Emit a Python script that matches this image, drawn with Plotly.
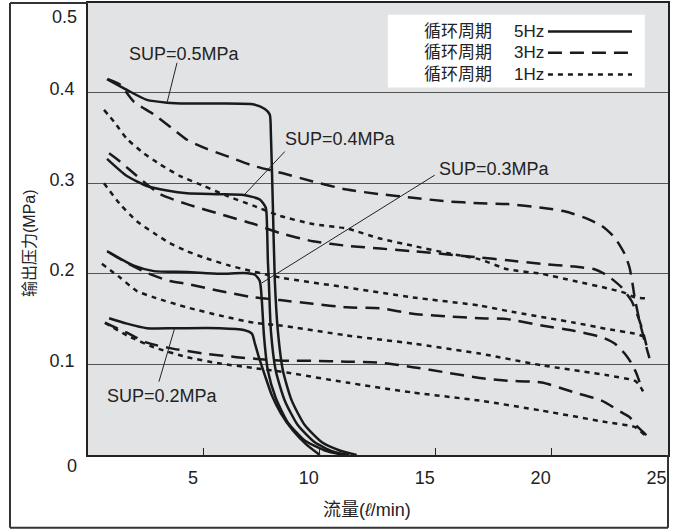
import plotly.graph_objects as go

# ---------------- data (flow l/min, output pressure MPa) ----------------
hz5_05_x = [0.82, 1.68, 2.54, 3.41, 4.27, 5.69, 7.16, 7.63, 7.84, 7.89, 7.97, 8.06, 8.19, 8.41, 8.79, 9.35, 10.09, 10.86, 11.59]
hz5_05_y = [0.415, 0.403, 0.392, 0.389, 0.388, 0.388, 0.387, 0.382, 0.376, 0.354, 0.280, 0.192, 0.137, 0.093, 0.060, 0.033, 0.014, 0.005, 0.0]
hz5_04_x = [0.82, 1.68, 2.54, 3.41, 4.27, 5.69, 6.72, 7.41, 7.67, 7.72, 7.76, 7.80, 7.89, 8.10, 8.49, 9.05, 9.78, 10.56, 11.25]
hz5_04_y = [0.327, 0.308, 0.297, 0.292, 0.289, 0.288, 0.287, 0.282, 0.273, 0.255, 0.214, 0.192, 0.137, 0.093, 0.060, 0.033, 0.014, 0.004, 0.0]
hz5_03_x = [0.82, 1.98, 2.84, 4.27, 5.69, 6.72, 7.20, 7.41, 7.50, 7.59, 7.76, 8.10, 8.62, 9.35, 10.22, 11.03]
hz5_03_y = [0.225, 0.209, 0.203, 0.202, 0.200, 0.201, 0.199, 0.192, 0.170, 0.132, 0.093, 0.063, 0.036, 0.016, 0.005, 0.0]
hz5_02_x = [0.91, 1.68, 2.54, 3.84, 5.69, 6.72, 7.07, 7.20, 7.37, 7.63, 7.93, 8.32, 8.84, 9.40, 10.0]
hz5_02_y = [0.151, 0.145, 0.140, 0.140, 0.140, 0.138, 0.134, 0.123, 0.108, 0.088, 0.066, 0.046, 0.027, 0.012, 0.0]

hz3_05_x = [0.86, 1.38, 1.98, 2.84, 3.71, 4.27, 5.13, 5.99, 7.16, 8.41, 9.70, 11.16, 12.59, 14.01, 15.47, 16.90, 18.10, 19.57, 20.56, 21.42, 22.16, 22.72, 23.15, 23.36, 23.49, 23.58, 23.79, 24.01, 24.22]
hz3_05_y = [0.415, 0.409, 0.390, 0.376, 0.359, 0.348, 0.338, 0.330, 0.319, 0.311, 0.302, 0.293, 0.288, 0.284, 0.280, 0.278, 0.277, 0.273, 0.269, 0.262, 0.253, 0.240, 0.222, 0.207, 0.189, 0.174, 0.148, 0.126, 0.107]
hz3_04_x = [0.91, 1.38, 2.11, 3.10, 4.27, 5.69, 7.16, 8.28, 9.70, 11.16, 14.01, 16.90, 18.10, 19.57, 20.99, 21.85, 22.41, 23.02, 23.45, 23.71, 23.92, 24.09]
hz3_04_y = [0.333, 0.324, 0.308, 0.288, 0.277, 0.266, 0.255, 0.245, 0.236, 0.231, 0.225, 0.218, 0.215, 0.211, 0.208, 0.205, 0.198, 0.185, 0.170, 0.154, 0.138, 0.121]
hz3_03_x = [0.95, 1.68, 2.54, 3.53, 4.27, 5.69, 7.16, 8.28, 9.70, 11.16, 12.59, 14.01, 15.47, 16.90, 18.10, 19.57, 20.99, 22.16, 22.72, 23.15, 23.45, 23.66, 23.92]
hz3_03_y = [0.223, 0.212, 0.201, 0.192, 0.189, 0.181, 0.174, 0.171, 0.167, 0.163, 0.162, 0.156, 0.153, 0.151, 0.150, 0.143, 0.137, 0.130, 0.123, 0.112, 0.101, 0.090, 0.071]
hz3_02_x = [0.73, 1.68, 2.54, 3.53, 5.0, 6.42, 7.84, 8.58, 9.70, 11.16, 12.59, 14.01, 15.47, 16.90, 18.10, 19.57, 20.99, 22.16, 23.02, 23.36, 23.71, 24.01, 24.14]
hz3_02_y = [0.146, 0.135, 0.124, 0.118, 0.112, 0.108, 0.105, 0.104, 0.104, 0.103, 0.102, 0.097, 0.091, 0.085, 0.082, 0.080, 0.069, 0.060, 0.047, 0.042, 0.031, 0.024, 0.020]

hz1_05_x = [0.69, 1.12, 1.68, 2.41, 3.10, 3.97, 5.0, 5.99, 7.16, 8.28, 9.70, 11.16, 12.59, 14.01, 15.47, 16.90, 18.10, 19.57, 20.99, 22.41, 23.15, 23.58, 24.09]
hz1_05_y = [0.381, 0.368, 0.349, 0.333, 0.321, 0.308, 0.297, 0.286, 0.275, 0.264, 0.255, 0.250, 0.239, 0.231, 0.223, 0.216, 0.205, 0.200, 0.192, 0.184, 0.179, 0.174, 0.173]
hz1_04_x = [0.69, 1.38, 2.11, 2.84, 3.53, 4.27, 5.0, 6.12, 8.28, 11.16, 14.01, 16.90, 18.10, 20.99, 22.41, 23.58, 24.09]
hz1_04_y = [0.300, 0.277, 0.258, 0.245, 0.234, 0.225, 0.218, 0.209, 0.196, 0.185, 0.174, 0.165, 0.159, 0.146, 0.139, 0.134, 0.130]
hz1_03_x = [0.60, 1.38, 2.11, 2.84, 4.27, 5.69, 7.16, 8.28, 11.16, 14.01, 16.90, 19.57, 22.41, 23.58, 23.79, 23.97]
hz1_03_y = [0.211, 0.196, 0.181, 0.174, 0.163, 0.154, 0.146, 0.143, 0.132, 0.123, 0.112, 0.099, 0.088, 0.082, 0.077, 0.069]
hz1_02_x = [0.73, 1.68, 2.84, 4.27, 5.69, 7.16, 8.58, 11.16, 14.01, 16.90, 19.57, 22.41, 23.58, 24.01, 24.14]
hz1_02_y = [0.146, 0.132, 0.119, 0.108, 0.101, 0.096, 0.091, 0.080, 0.069, 0.060, 0.049, 0.036, 0.031, 0.022, 0.019]

x_ticks = [5, 10, 15, 20, 25]
y_ticks = [0.1, 0.2, 0.3, 0.4]
legend_labels = ["循环周期", "循环周期", "循环周期"]
legend_freqs = ["5Hz", "3Hz", "1Hz"]
sup_labels = ["SUP=0.5MPa", "SUP=0.4MPa", "SUP=0.3MPa", "SUP=0.2MPa"]
# label text anchor (left, middle) and leader line ends
sup_text_xy = [(1.68, 0.443), (8.41, 0.349), (15.05, 0.316), (0.73, 0.065)]
sup_leader = [((3.84, 0.433), (3.41, 0.389)),
              ((8.49, 0.335), (6.77, 0.288)),
              ((14.96, 0.309), (7.50, 0.190)),
              ((3.06, 0.081), (3.75, 0.141))]

# ---------------- figure ----------------
LINE = "#1a1a1a"
FONT = "Liberation Sans, Arial, Helvetica, Noto Sans CJK SC, sans-serif"
styles = {"5": "solid", "3": "14px,8px", "1": "5px,5px"}

series = [
    ("5", hz5_05_x, hz5_05_y), ("5", hz5_04_x, hz5_04_y), ("5", hz5_03_x, hz5_03_y), ("5", hz5_02_x, hz5_02_y),
    ("3", hz3_05_x, hz3_05_y), ("3", hz3_04_x, hz3_04_y), ("3", hz3_03_x, hz3_03_y), ("3", hz3_02_x, hz3_02_y),
    ("1", hz1_05_x, hz1_05_y), ("1", hz1_04_x, hz1_04_y), ("1", hz1_03_x, hz1_03_y), ("1", hz1_02_x, hz1_02_y),
]

fig = go.Figure()
for hz, xs, ys in series:
    fig.add_trace(go.Scatter(
        x=xs, y=ys, mode="lines", showlegend=False, hoverinfo="skip",
        line=dict(color=LINE, width=2.5, dash=styles[hz], shape="spline", smoothing=0.6),
    ))

shapes = []
annotations = []

# SUP labels with leader lines
for lab, (tx, ty), ((x0, y0), (x1, y1)) in zip(sup_labels, sup_text_xy, sup_leader):
    annotations.append(dict(x=tx, y=ty, xref="x", yref="y", text=lab, showarrow=False,
                            xanchor="left", yanchor="middle", font=dict(size=18, color="#222", family=FONT)))
    shapes.append(dict(type="line", xref="x", yref="y", x0=x0, y0=y0, x1=x1, y1=y1,
                       line=dict(color="#222", width=1)))

# outer frame (left and bottom edges; top/right coincide with plot border)
FX0, FY0 = -0.1345, -0.1608
shapes.append(dict(type="line", xref="paper", yref="paper", x0=FX0, x1=FX0, y0=FY0, y1=1.0,
                   line=dict(color="#333", width=2), layer="above"))
shapes.append(dict(type="line", xref="paper", yref="paper", x0=FX0, x1=1.0, y0=FY0, y1=FY0,
                   line=dict(color="#333", width=2), layer="above"))
shapes.append(dict(type="line", xref="paper", yref="paper", x0=FX0, x1=0.0, y0=1.0, y1=1.0,
                   line=dict(color="#333", width=2), layer="above"))
shapes.append(dict(type="line", xref="paper", yref="paper", x0=1.0, x1=1.0, y0=FY0, y1=0.0,
                   line=dict(color="#333", width=2), layer="above"))

# legend box (manual, text left of sample)
shapes.append(dict(type="rect", xref="paper", yref="paper", x0=0.517, x1=0.960, y0=0.813, y1=0.974,
                   fillcolor="white", line=dict(width=0), layer="above"))
row_y = [0.937, 0.890, 0.842]
for lab, fq, ry, hz in zip(legend_labels, legend_freqs, row_y, ["5", "3", "1"]):
    annotations.append(dict(x=0.576, y=ry, xref="paper", yref="paper", text=lab, showarrow=False,
                            xanchor="left", yanchor="middle", font=dict(size=17, color="#222", family=FONT)))
    annotations.append(dict(x=0.790, y=ry, xref="paper", yref="paper", text=fq, showarrow=False,
                            xanchor="right", yanchor="middle", font=dict(size=17, color="#222", family=FONT)))
    shapes.append(dict(type="line", xref="paper", yref="paper", x0=0.793, x1=0.938, y0=ry, y1=ry,
                       line=dict(color=LINE, width=2.5, dash=styles[hz]), layer="above"))

# end labels of y axis (offset in original)
annotations.append(dict(x=-0.015, y=-0.024, xref="paper", yref="paper", text="0", showarrow=False,
                        xanchor="right", yanchor="middle", font=dict(size=18, color="#222", family=FONT)))
annotations.append(dict(x=-0.015, y=0.968, xref="paper", yref="paper", text="0.5", showarrow=False,
                        xanchor="right", yanchor="middle", font=dict(size=18, color="#222", family=FONT)))

# axis titles
annotations.append(dict(x=-0.101, y=0.47, xref="paper", yref="paper", text="输出压力(MPa)", showarrow=False,
                        textangle=-90, xanchor="center", yanchor="middle", font=dict(size=16, color="#222", family=FONT)))
annotations.append(dict(x=0.481, y=-0.121, xref="paper", yref="paper", text="流量(<i>ℓ</i>/min)", showarrow=False,
                        xanchor="center", yanchor="middle", font=dict(size=18, color="#222", family=FONT)))

fig.update_layout(
    width=675, height=532,
    margin=dict(l=88, r=7, t=1, b=77, pad=0),
    paper_bgcolor="white", plot_bgcolor="#e2e3e5",
    font=dict(family=FONT, size=18, color="#222"),
    showlegend=False,
    shapes=shapes, annotations=annotations,
)
fig.update_xaxes(range=[0, 25.02], tickvals=x_ticks, ticktext=[str(v) for v in x_ticks],
                 ticks="inside", ticklen=7, tickwidth=1, tickcolor="#222",
                 ticklabelshift=-11, ticklabelstandoff=6,
                 showgrid=False, zeroline=False, showline=True, linecolor="#222", linewidth=1.5, mirror=True)
fig.update_yaxes(range=[0, 0.499], tickvals=y_ticks, ticktext=[str(v) for v in y_ticks],
                 ticks="", ticklabelshift=-4, ticklabelstandoff=8,
                 showgrid=True, gridcolor="#555", gridwidth=1, zeroline=False,
                 showline=True, linecolor="#222", linewidth=1.5, mirror=True)

fig.write_html("out.html")
